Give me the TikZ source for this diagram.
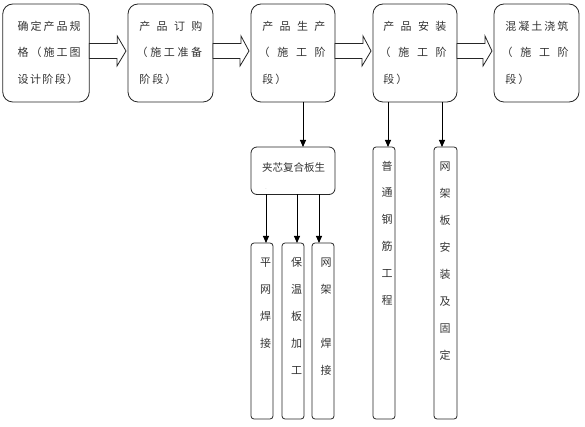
\documentclass[tikz,border=0pt]{standalone}
\usepackage{fontspec}
\setmainfont{Noto Sans CJK SC}
\usetikzlibrary{arrows.meta,calc}
\begin{document}
\begin{tikzpicture}[x=1pt,y=-1pt,
  topbox/.style={draw=black!85,line width=0.8pt,rounded corners=10pt,inner sep=0pt,outer sep=0pt,minimum height=98pt},
  midbox/.style={draw=black!85,line width=0.8pt,rounded corners=6pt,inner sep=0pt,outer sep=0pt},
  thinbox/.style={draw=black!85,line width=0.8pt,rounded corners=3pt,inner sep=0pt,outer sep=0pt},
  tl/.style={anchor=base west,inner sep=0pt,font=\fontsize{11pt}{12pt}\selectfont,text=black!80},
  vt/.style={anchor=base,inner sep=0pt,font=\fontsize{11pt}{12pt}\selectfont,text=black!80},
  blockarr/.style={draw=black!85,line width=0.8pt,fill=white,line join=miter},
  arr/.style={draw=black,line width=0.9pt,-{Triangle[length=7pt,width=6pt]}}]
\useasboundingbox (0,0) rectangle (585,427);

% top boxes
\node[topbox,minimum width=86.5pt] (b1) at (46,53) {};
\node[topbox,minimum width=85pt] (b2) at (170.5,53) {};
\node[topbox,minimum width=84pt] (b3) at (293,53) {};
\node[topbox,minimum width=84pt] (b4) at (415,53) {};
\node[topbox,minimum width=85pt] (b5) at (536.5,53) {};

% texts of top boxes
\node[tl] (t11) at (17.5,30.2) {\makebox[63pt][s]{确\hfill 定\hfill 产\hfill 品\hfill 规}};
\node[tl] (t12) at (17.5,56.7) {\makebox[63pt][s]{格\hfill （\hfill 施\hfill 工\hfill 图}};
\node[tl] (t13) at (17.5,83.2) {\makebox[60.5pt][s]{设\hfill 计\hfill 阶\hfill 段\hfill ）}};

\node[tl] (t21) at (139.2,30.2) {\makebox[63pt][s]{产\hfill 品\hfill 订\hfill 购}};
\node[tl] (t22) at (136.5,56.7) {\makebox[65.5pt][s]{（\hfill 施\hfill 工\hfill 准\hfill 备}};
\node[tl] (t23) at (139.2,83.2) {\makebox[37pt][s]{阶\hfill 段\hfill ）}};

\node[tl] (t31) at (262.2,30.2) {\makebox[63pt][s]{产\hfill 品\hfill 生\hfill 产}};
\node[tl] (t32) at (258.5,56.7) {\makebox[67pt][s]{（\hfill 施\hfill 工\hfill 阶}};
\node[tl] (t33) at (262.2,83.2) {\makebox[24pt][s]{段\hfill ）}};

\node[tl] (t41) at (383.2,30.2) {\makebox[63pt][s]{产\hfill 品\hfill 安\hfill 装}};
\node[tl] (t42) at (379.5,56.7) {\makebox[67pt][s]{（\hfill 施\hfill 工\hfill 阶}};
\node[tl] (t43) at (383.2,83.2) {\makebox[24pt][s]{段\hfill ）}};

\node[tl] (t51) at (505.2,30.2) {\makebox[63pt][s]{混\hfill 凝\hfill 土\hfill 浇\hfill 筑}};
\node[tl] (t52) at (501.5,56.7) {\makebox[67pt][s]{（\hfill 施\hfill 工\hfill 阶}};
\node[tl] (t53) at (505.2,83.2) {\makebox[24pt][s]{段\hfill ）}};

% block arrows
\foreach \a/\b in {b1/b2,b2/b3,b3/b4,b4/b5}{
  \draw[blockarr] ($(\a.east)+(0,-9.5)$) -- ++(28,0) -- ++(0,-7.5)
    -- ($(\b.west)+(-2,-2)$) -- ++(-9,15) -- ++(0,-7.5)
    -- ($(\a.east)+(0,5.5)$) -- cycle;
}

% composite box
\node[midbox,minimum width=84pt,minimum height=47.5pt] (c0) at (293,170.75) {};
\node[vt,font=\fontsize{10.5pt}{12pt}\selectfont] (c0t) at (293.5,171.5) {夹芯复合板生};
\node[inner sep=0pt,font=\fontsize{5pt}{6pt}\selectfont,text=black!40] (dot) at (266,189) {.};

% thin boxes
\node[thinbox,minimum width=22pt,minimum height=176pt] (sa) at (262,331) {};
\node[thinbox,minimum width=22pt,minimum height=176pt] (sb) at (293,331) {};
\node[thinbox,minimum width=22pt,minimum height=176pt] (sc) at (323,331) {};
\node[thinbox,minimum width=22pt,minimum height=272pt] (sd) at (384,283) {};
\node[thinbox,minimum width=23pt,minimum height=272pt] (se) at (445.5,283) {};

% vertical texts
\foreach \c [count=\i from 0] in {平,网,焊,接}
  \node[vt] (pa\i) at (265.5,{266.2+27*\i}) {\c};
\foreach \c [count=\i from 0] in {保,温,板,加,工}
  \node[vt] (pb\i) at (296.5,{266.2+27*\i}) {\c};
\foreach \c/\i in {网/0,架/1,焊/3,接/4}
  \node[vt] (pc\i) at (326,{266.2+27*\i}) {\c};
\foreach \c [count=\i from 0] in {普,通,钢,筋,工,程}
  \node[vt] (pd\i) at (387,{170.2+26.8*\i}) {\c};
\foreach \c [count=\i from 0] in {网,架,板,安,装,及,固,定}
  \node[vt] (pe\i) at (445,{170.2+27*\i}) {\c};

% thin arrows
\draw[arr] ([xshift=10pt]b3.south) -- ([xshift=10pt]b3.south |- c0.north);
\draw[arr] ([xshift=4pt]sa.north |- c0.south) -- ([xshift=4pt]sa.north);
\draw[arr] ([xshift=4pt]sb.north |- c0.south) -- ([xshift=4pt]sb.north);
\draw[arr] ([xshift=-4pt]sc.north |- c0.south) -- ([xshift=-4pt]sc.north);
\draw[arr] ([xshift=4pt]sd.north |- b4.south) -- ([xshift=4pt]sd.north);
\draw[arr] ([xshift=-3.5pt]se.north |- b4.south) -- ([xshift=-3.5pt]se.north);
\end{tikzpicture}
\end{document}
